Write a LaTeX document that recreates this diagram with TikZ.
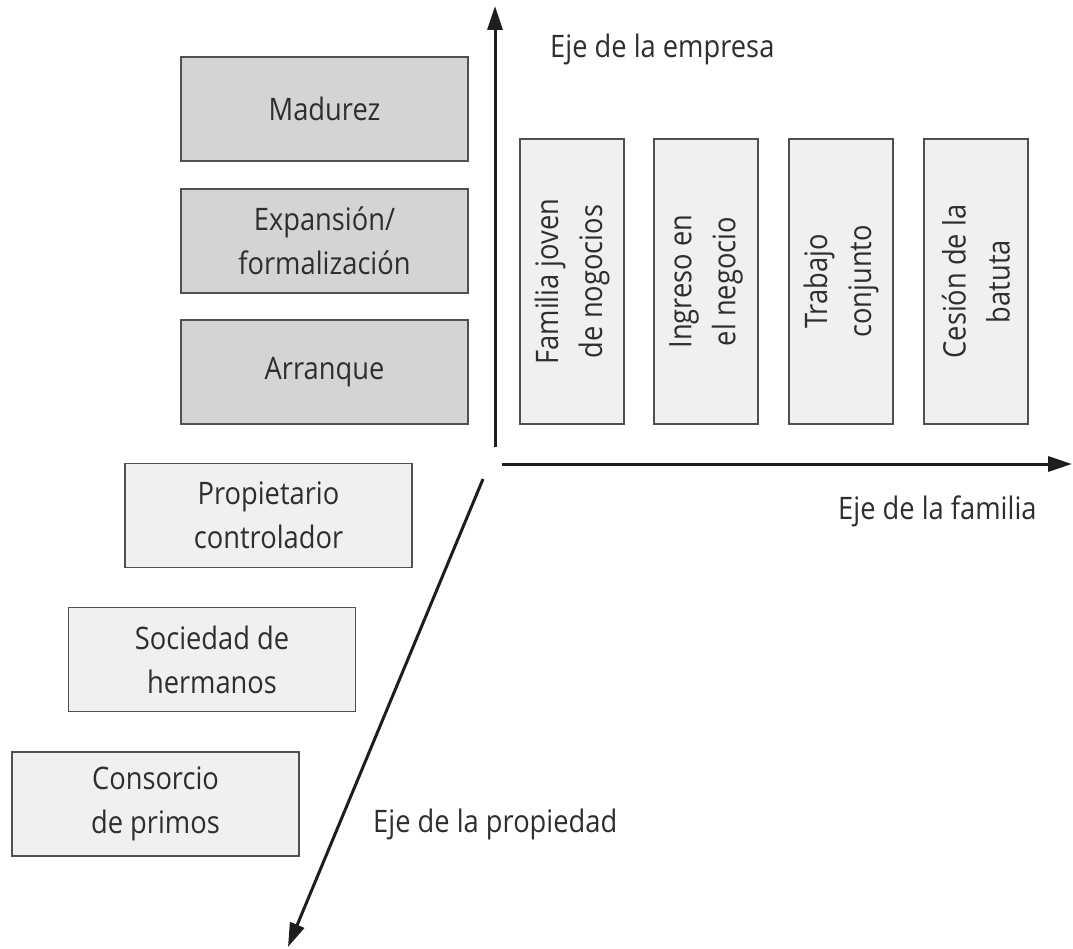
\documentclass[tikz,border=0pt]{standalone}
\usepackage{fontspec}
\setmainfont{Open Sans}[FakeStretch=0.88]
\usetikzlibrary{arrows.meta}
\definecolor{txt}{HTML}{2E2E2E}
\definecolor{boxline}{HTML}{505050}
\definecolor{darkfill}{HTML}{D4D4D4}
\definecolor{lightfill}{HTML}{F0F0F0}
\definecolor{axiscol}{HTML}{1E1E1E}
\begin{document}
\begin{tikzpicture}[x=1pt,y=-1pt,
  box/.style={draw=boxline, line width=1.8pt, align=center, inner sep=0pt,
    text=txt, font=\fontsize{31}{44}\selectfont},
  hbox/.style={box, minimum width=287pt, minimum height=104pt},
  vbox/.style={box, fill=lightfill, rotate=90, minimum width=285pt, minimum height=104pt},
  darkbox/.style={hbox, fill=darkfill},
  lightbox/.style={hbox, fill=lightfill},
  axis/.style={draw=axiscol, line width=3pt, -{Triangle[length=24pt,width=15pt]}},
  lab/.style={text=txt, font=\fontsize{31}{44}\selectfont, anchor=base west, inner sep=0pt}]
\useasboundingbox (0,0) rectangle (1073,949);

% dark boxes (empresa)
\node[darkbox] (mad) at (324.5,109) {Madurez};
\node[darkbox] (exp) at (324.5,241) {Expansión/\\formalización};
\node[darkbox] (arr) at (324.5,372) {Arranque};

% light boxes (propiedad)
\node[lightbox] (pro) at (268.5,515.5) {Propietario\\controlador};
\node[lightbox] (soc) at (212,659.5) {Sociedad de\\hermanos};
\node[lightbox] (con) at (155.5,804) {Consorcio\\de primos};

% vertical boxes (familia)
\node[vbox] (fam) at (572,281.5) {Familia joven\\de nogocios};
\node[vbox] (ing) at (706,281.5) {Ingreso en\\el negocio};
\node[vbox] (tra) at (841,281.5) {Trabajo\\conjunto};
\node[vbox] (ces) at (976,281.5) {Cesión de la\\batuta};

% axes
\coordinate (eS) at (495,447);
\coordinate (eE) at (495,6);
\coordinate (fS) at (502,464);
\coordinate (fE) at (1072,464);
\coordinate (pS) at (483,479);
\coordinate (pE) at (288,947);
\draw[axis] (eS) -- (eE);
\draw[axis] (fS) -- (fE);
\draw[axis] (pS) -- (pE);

% labels
\node[lab] (lemp) at (550,58) {Eje de la empresa};
\node[lab] (lfam) at (838,519) {Eje de la familia};
\node[lab] (lpro) at (373,832) {Eje de la propiedad};
\end{tikzpicture}
\end{document}
